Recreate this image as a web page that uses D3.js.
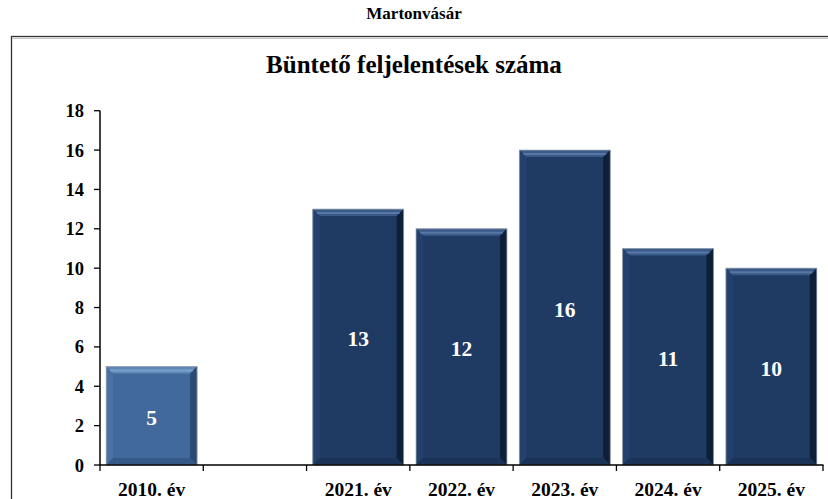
<!DOCTYPE html>
<html lang="hu">
<head>
<meta charset="utf-8">
<title>Martonvásár - Büntető feljelentések száma</title>
<script src="https://d3js.org/d3.v7.min.js"></script>
<style>
  body { margin: 0; background: #fff; }
  text { font-family: "Liberation Serif", "Times New Roman", serif; font-weight: bold; }
</style>
</head>
<body>
<script>
// adatok
const categories = ["2010. év", "", "2021. év", "2022. év", "2023. év", "2024. év", "2025. év"];
const values = [5, null, 13, 12, 16, 11, 10];
const yTicks = [0, 2, 4, 6, 8, 10, 12, 14, 16, 18];

const width = 828, height = 499;
const svg = d3.select("body").append("svg")
  .attr("width", width).attr("height", height);

// keret
svg.append("rect")
  .attr("x", 11.5).attr("y", 36.5)
  .attr("width", 840).attr("height", 500)
  .attr("fill", "none").attr("stroke", "#333").attr("stroke-width", 1.3);
svg.append("line")
  .attr("x1", 12).attr("x2", width).attr("y1", 38.3).attr("y2", 38.3)
  .attr("stroke", "#bbb").attr("stroke-width", 1);

svg.append("text")
  .attr("x", 414).attr("y", 19)
  .attr("text-anchor", "middle").attr("font-size", 17)
  .text("Martonvásár");

svg.append("text")
  .attr("x", 414).attr("y", 73)
  .attr("text-anchor", "middle").attr("font-size", 25)
  .text("Büntető feljelentések száma");

const x = d3.scaleBand()
  .domain(d3.range(categories.length))
  .range([100, 823])
  .paddingInner(0.12)
  .paddingOuter(0.06);

const y = d3.scaleLinear().domain([0, 18]).range([465, 110.7]);

const step = x.step();
const edge = i => x(i) - step * x.paddingInner() / 2;

// y tengely
const gy = svg.append("g");
gy.append("line")
  .attr("x1", 100).attr("x2", 100)
  .attr("y1", y(18)).attr("y2", y(0))
  .attr("stroke", "#000").attr("stroke-width", 1.5);
gy.selectAll("line.tick").data(yTicks).join("line")
  .attr("class", "tick")
  .attr("x1", 94).attr("x2", 100)
  .attr("y1", d => y(d)).attr("y2", d => y(d))
  .attr("stroke", "#000").attr("stroke-width", 1.3);
gy.selectAll("text").data(yTicks).join("text")
  .attr("x", 84).attr("y", d => y(d) + 6.5)
  .attr("text-anchor", "end").attr("font-size", 18.5)
  .text(d => d);

// oszlopok
const bars = svg.append("g").selectAll("g")
  .data(values.map((v, i) => ({ v, i })).filter(d => d.v != null))
  .join("g");

const bev = 7;
bars.each(function(d) {
  const g = d3.select(this);
  const x0 = x(d.i), x1 = x0 + x.bandwidth();
  const y0 = y(d.v), y1 = y(0);
  const light = d.i === 0;
  const base = light ? "#41699b" : "#1f3b64";
  const top = light ? "#6088b9" : "#3a5b8a";
  const left = light ? "#4a72a4" : "#23416c";
  const right = light ? "#2a4a72" : "#0e1f38";
  const bottom = light ? "#365a88" : "#1a3357";
  g.append("rect")
    .attr("x", x0).attr("y", y0)
    .attr("width", x1 - x0).attr("height", y1 - y0)
    .attr("fill", base);
  const poly = pts => g.append("polygon").attr("points", pts.map(p => p.join(",")).join(" "));
  poly([[x0, y0], [x1, y0], [x1 - bev, y0 + bev], [x0 + bev, y0 + bev]]).attr("fill", top);
  poly([[x0, y0], [x0 + bev, y0 + bev], [x0 + bev, y1 - bev], [x0, y1]]).attr("fill", left);
  poly([[x1, y0], [x1, y1], [x1 - bev, y1 - bev], [x1 - bev, y0 + bev]]).attr("fill", right);
  poly([[x0, y1], [x0 + bev, y1 - bev], [x1 - bev, y1 - bev], [x1, y1]]).attr("fill", bottom);
  // fényes csík a tetején
  g.append("line")
    .attr("x1", x0 + 4).attr("x2", x1 - 4)
    .attr("y1", y0 + 4).attr("y2", y0 + 4)
    .attr("stroke", light ? "#8fb0d8" : "#6b8bb8").attr("stroke-width", 2).attr("opacity", 0.6);
  g.append("rect")
    .attr("x", x0).attr("y", y0)
    .attr("width", x1 - x0).attr("height", y1 - y0)
    .attr("fill", "none").attr("stroke", "#9aa4b0").attr("stroke-width", 0.8);
  g.append("text")
    .attr("x", (x0 + x1) / 2)
    .attr("y", (y0 + y1) / 2 + 9)
    .attr("text-anchor", "middle").attr("font-size", 21.5)
    .attr("fill", "#fff")
    .text(d.v);
});

// x tengely
const gx = svg.append("g");
gx.append("line")
  .attr("x1", 100).attr("x2", 823.5)
  .attr("y1", y(0)).attr("y2", y(0))
  .attr("stroke", "#000").attr("stroke-width", 1.5);
const edges = d3.range(categories.length + 1).map(i =>
  i < categories.length ? edge(i) : edge(i - 1) + step);
gx.selectAll("line.tick").data(edges).join("line")
  .attr("class", "tick")
  .attr("x1", d => d).attr("x2", d => d)
  .attr("y1", y(0)).attr("y2", y(0) + 6)
  .attr("stroke", "#000").attr("stroke-width", 1.3);
gx.selectAll("text").data(categories).join("text")
  .attr("x", (d, i) => x(i) + x.bandwidth() / 2)
  .attr("y", 496)
  .attr("text-anchor", "middle").attr("font-size", 19.5)
  .text(d => d);
</script>
</body>
</html>
